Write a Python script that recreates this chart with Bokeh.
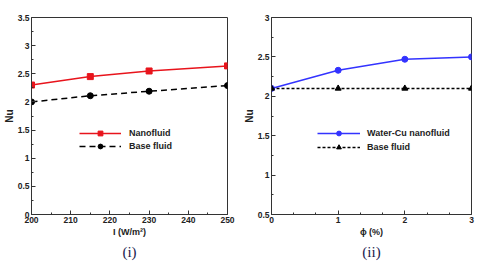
from bokeh.plotting import figure
from bokeh.layouts import row
from bokeh.models import FixedTicker, Legend, LegendItem, Title, Range1d
from bokeh.embed import file_html
from bokeh.resources import INLINE

# ---- data ----
I_vals = [200, 215, 230, 250]
nu_nano_i = [2.30, 2.45, 2.55, 2.64]
nu_base_i = [2.00, 2.11, 2.19, 2.29]

phi_vals = [0, 1, 2, 3]
nu_cu = [2.10, 2.33, 2.47, 2.50]
nu_base_phi = [2.10, 2.10, 2.10, 2.10]

yticks_i = [0, 0.5, 1, 1.5, 2, 2.5, 3, 3.5]
xticks_i = [200, 210, 220, 230, 240, 250]
yticks_ii = [0.5, 1, 1.5, 2, 2.5, 3]
xticks_ii = [0, 1, 2, 3]

FONT = "Liberation Sans"


def fmt(v):
    return str(int(v)) if float(v).is_integer() else str(v)


def style(p, xt, yt, xminor, yminor, xlabel):
    p.outline_line_color = "#333333"
    p.outline_line_width = 1
    p.xgrid.visible = False
    p.ygrid.visible = False
    for ax, ticks, nminor in ((p.xaxis[0], xt, xminor), (p.yaxis[0], yt, yminor)):
        ax.ticker = FixedTicker(ticks=ticks, minor_ticks=nminor)
        ax.major_label_overrides = {float(t): fmt(t) for t in ticks}
        ax.major_tick_in = 4
        ax.major_tick_out = 0
        ax.minor_tick_in = 2
        ax.minor_tick_out = 0
        ax.axis_line_color = "#333333"
        ax.major_tick_line_color = "#333333"
        ax.minor_tick_line_color = "#333333"
        ax.major_label_text_font = FONT
        ax.major_label_text_font_style = "bold"
        ax.major_label_text_font_size = "8.5px"
        ax.major_label_text_color = "#222222"
        ax.major_label_standoff = 2
        ax.axis_label_text_font = FONT
        ax.axis_label_text_font_style = "bold"
        ax.axis_label_text_color = "#222222"
        ax.axis_label_standoff = 0
    p.yaxis[0].axis_label = "Nu"
    p.yaxis[0].axis_label_text_font_size = "10px"
    p.xaxis[0].axis_label = xlabel
    p.xaxis[0].axis_label_text_font_size = "9px"
    p.xaxis[0].axis_label_standoff = 1


# ---- panel (i) ----
p1 = figure(width=240, height=266, output_backend="svg", toolbar_location=None,
            x_range=Range1d(200, 250), y_range=Range1d(0, 3.5),
            min_border_left=24, min_border_right=13, min_border_top=15, min_border_bottom=52)
style(p1, xticks_i, yticks_i, [205, 215, 225, 235, 245],
      [0.25, 0.75, 1.25, 1.75, 2.25, 2.75, 3.25], "I (W/m²)")

r1l = p1.line(I_vals, nu_nano_i, line_color="#e8141c", line_width=1.5)
r1m = p1.scatter(I_vals, nu_nano_i, marker="square", size=6, fill_color="#e8141c",
                 line_color="#e8141c")
r2l = p1.line(I_vals, nu_base_i, line_color="black", line_width=1.5, line_dash="6 4")
r2m = p1.scatter(I_vals, nu_base_i, marker="circle", size=6, fill_color="black",
                 line_color="black")

leg1 = Legend(items=[LegendItem(label="Nanofluid", renderers=[r1l, r1m]),
                     LegendItem(label="Base fluid", renderers=[r2l, r2m])],
              location=(48, 62), background_fill_alpha=0, border_line_alpha=0,
              glyph_width=42, glyph_height=12, label_height=12, label_standoff=8,
              spacing=1, padding=0, margin=0,
              label_text_font=FONT, label_text_font_style="bold",
              label_text_font_size="9px", label_text_color="#222222")
p1.add_layout(leg1)
p1.add_layout(Title(text="(i)", align="center", text_font="Liberation Serif",
                    text_font_size="15px", text_font_style="normal",
                    text_color="#1c1c50", standoff=4, offset=0), "below")

# ---- panel (ii) ----
p2 = figure(width=240, height=266, output_backend="svg", toolbar_location=None,
            x_range=Range1d(0, 3), y_range=Range1d(0.5, 3),
            min_border_left=23, min_border_right=9, min_border_top=17, min_border_bottom=50)
style(p2, xticks_ii, yticks_ii,
      [1/3, 2/3, 4/3, 5/3, 7/3, 8/3],
      [0.75, 1.25, 1.75, 2.25, 2.75], "ϕ (%)")

r3l = p2.line(phi_vals, nu_cu, line_color="#3333ff", line_width=1.5)
r3m = p2.scatter(phi_vals, nu_cu, marker="circle", size=6, fill_color="#3333ff",
                 line_color="#3333ff")
r4l = p2.line(phi_vals, nu_base_phi, line_color="black", line_width=1.5, line_dash="3 2")
r4m = p2.scatter(phi_vals, nu_base_phi, marker="triangle", size=6, fill_color="black",
                 line_color="black")

leg2 = Legend(items=[LegendItem(label="Water-Cu nanofluid", renderers=[r3l, r3m]),
                     LegendItem(label="Base fluid", renderers=[r4l, r4m])],
              location=(46, 61), background_fill_alpha=0, border_line_alpha=0,
              glyph_width=43, glyph_height=12, label_height=12, label_standoff=7,
              spacing=2, padding=0, margin=0,
              label_text_font=FONT, label_text_font_style="bold",
              label_text_font_size="9px", label_text_color="#222222")
p2.add_layout(leg2)
p2.add_layout(Title(text="(ii)", align="center", text_font="Liberation Serif",
                    text_font_size="15px", text_font_style="normal",
                    text_color="#1c1c50", standoff=4, offset=0), "below")

layout = row(p1, p2)
open("out.html", "w").write(file_html(layout, INLINE))
